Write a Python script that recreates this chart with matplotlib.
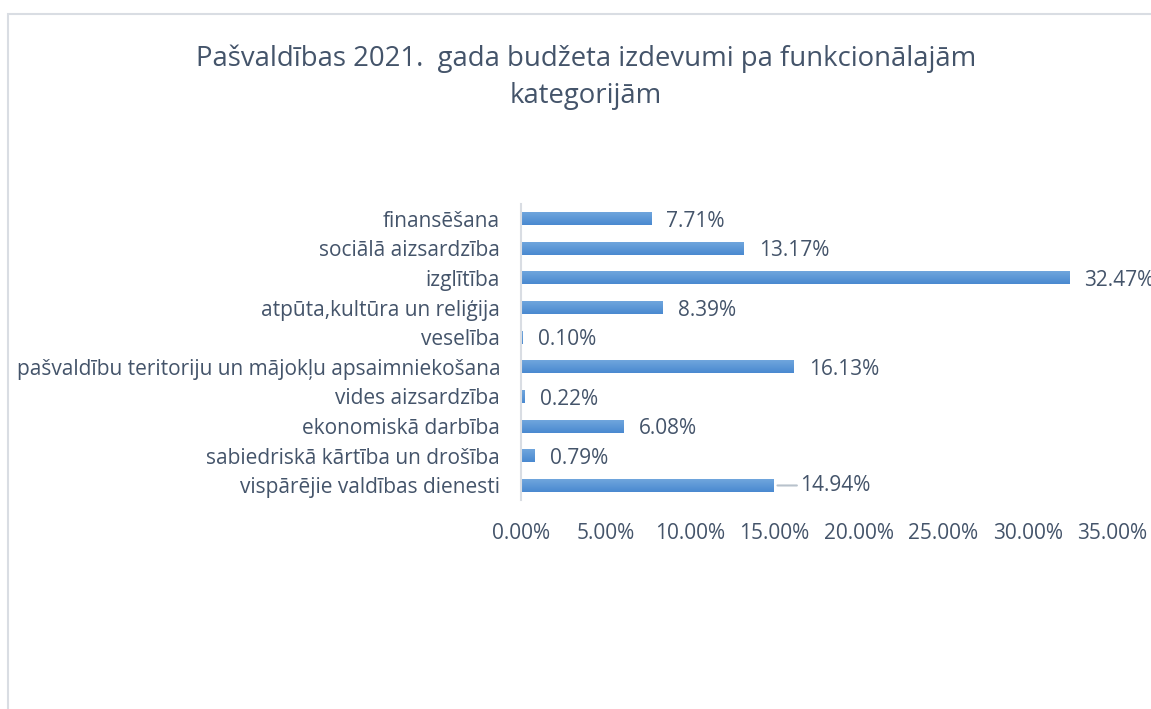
import matplotlib.pyplot as plt
import numpy as np
from matplotlib.colors import LinearSegmentedColormap
from matplotlib.patches import Rectangle

categories = [
    "finansēšana",
    "sociālā aizsardzība",
    "izglītība",
    "atpūta,kultūra un reliģija",
    "veselība",
    "pašvaldību teritoriju un mājokļu apsaimniekošana",
    "vides aizsardzība",
    "ekonomiskā darbība",
    "sabiedriskā kārtība un drošība",
    "vispārējie valdības dienesti",
]
shares = [7.71, 13.17, 32.47, 8.39, 0.10, 16.13, 0.22, 6.08, 0.79, 14.94]
xticks = [0, 5, 10, 15, 20, 25, 30, 35]

TEXT = "#44546a"
BAR = "#5694d6"
FONT = "Open Sans"
FS = 15

plt.rcParams["font.family"] = [FONT, "DejaVu Sans"]

fig = plt.figure(figsize=(11.51, 7.09), dpi=100)
fig.patches.append(Rectangle((8 / 1151, -0.1), 1.2, 1 - 13.5 / 709 + 0.1,
                             transform=fig.transFigure, fill=False,
                             edgecolor="#d9dde3", linewidth=1.5))

ax = fig.add_axes([521 / 1151, 1 - 500.3 / 709, 591 / 1151, 296.6 / 709])
ypos = list(range(len(categories)))
bars = ax.barh(ypos, shares, height=0.44, color=BAR, edgecolor="none")

# vertical gradient like the office bar fill (lighter on top)
grad_cmap = LinearSegmentedColormap.from_list("bar", ["#72a8de", "#4a89d0"])
grad = np.linspace(0, 1, 64).reshape(-1, 1)
for b in bars:
    x0, y0 = b.get_x(), b.get_y()
    im = ax.imshow(grad, cmap=grad_cmap, aspect="auto", interpolation="bilinear",
                   extent=(x0, x0 + b.get_width(), y0 + b.get_height(), y0),
                   origin="upper", zorder=2)
    im.set_clip_path(b)

ax.set_xlim(0, 35)
ax.set_ylim(len(categories) - 0.5, -0.5)

ax.set_yticks(ypos)
ax.set_yticklabels(categories, fontsize=FS, color=TEXT)
ax.set_xticks(xticks)
ax.set_xticklabels([f"{t:.2f}%" for t in xticks], fontsize=FS, color=TEXT)
ax.tick_params(axis="y", length=0, pad=15)
ax.tick_params(axis="x", length=0, pad=16)

for side in ["top", "right", "bottom"]:
    ax.spines[side].set_visible(False)
ax.spines["left"].set_color("#d9dde3")
ax.spines["left"].set_linewidth(1.5)

for y, v in zip(ypos, shares):
    if v == 14.94:
        ax.annotate(f"{v:.2f}%", xy=(v, y), xytext=(19, 0), textcoords="offset points",
                    ha="left", va="center", fontsize=FS, color=TEXT,
                    arrowprops=dict(arrowstyle="-", color="#b8c2cc", lw=1.5,
                                    shrinkA=0, shrinkB=3))
    else:
        ax.annotate(f"{v:.2f}%", xy=(v, y), xytext=(11, -2), textcoords="offset points",
                    ha="left", va="center", fontsize=FS, color=TEXT,
                    annotation_clip=False)

fig.text(586 / 1151, 1 - 77 / 709,
         "Pašvaldības 2021.  gada budžeta izdevumi pa funkcionālajām\nkategorijām",
         ha="center", va="center", fontsize=19.8, color=TEXT, linespacing=1.45)

fig.savefig("out.png", dpi=100)
